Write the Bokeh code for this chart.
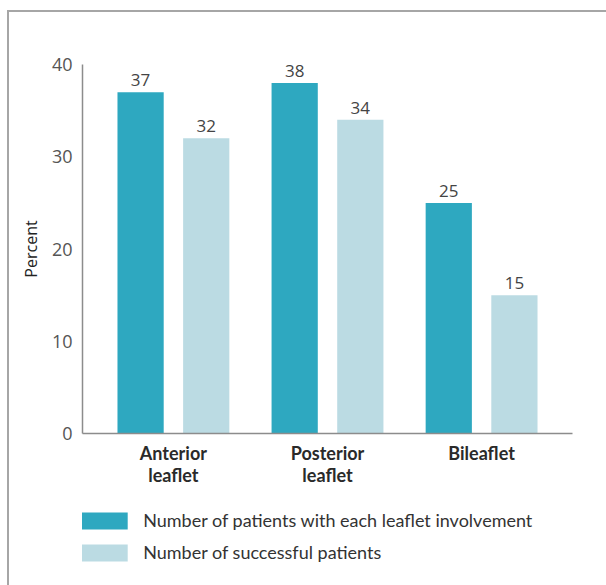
from bokeh.plotting import figure
from bokeh.models import ColumnDataSource, Range1d, FixedTicker, Legend, LegendItem, LabelSet
from bokeh.layouts import column
from bokeh.transform import dodge
from bokeh.core.properties import value
from bokeh.embed import file_html
from bokeh.resources import INLINE

categories = ["Anterior\nleaflet", "Posterior\nleaflet", "Bileaflet"]
involvement = [37, 38, 25]
successful = [32, 34, 15]
series_names = ["Number of patients with each leaflet involvement",
                "Number of successful patients"]
y_ticks = [0, 10, 20, 30, 40]

DARK = "#2EA8C0"
LIGHT = "#BBDBE3"
AXIS = "#8C8C8C"

group_pos = [i + 0.59 for i in range(len(categories))]
src = ColumnDataSource(dict(
    x=group_pos,
    inv=involvement,
    suc=successful,
    inv_txt=[str(v) for v in involvement],
    suc_txt=[str(v) for v in successful],
))

p = figure(width=597, height=478, output_backend="svg", toolbar_location=None,
           x_range=Range1d(0, 3.18), y_range=Range1d(0, 40),
           min_border_left=73, min_border_right=34, min_border_top=52,
           min_border_bottom=57)
p.outline_line_color = None
p.xgrid.visible = False
p.ygrid.visible = False
p.background_fill_color = "white"
p.border_fill_color = "white"

r1 = p.vbar(x=dodge("x", -0.213, range=p.x_range), top="inv", width=0.3,
            source=src, fill_color=DARK, line_color=None)
r2 = p.vbar(x=dodge("x", 0.213, range=p.x_range), top="suc", width=0.3,
            source=src, fill_color=LIGHT, line_color=None)

for col, off in (("inv", -0.213), ("suc", 0.213)):
    p.add_layout(LabelSet(x=dodge("x", off, range=p.x_range), y=col, text=col + "_txt",
                          source=src, text_align="center", text_baseline="alphabetic",
                          y_offset=6, text_font=value("Open Sans"),
                          text_font_size=value("17px"), text_color="#444444"))

# axes
p.yaxis.ticker = FixedTicker(ticks=y_ticks)
p.yaxis.axis_label = "Percent"
p.yaxis.axis_label_text_font = "Open Sans"
p.yaxis.axis_label_text_font_size = "16px"
p.yaxis.axis_label_text_font_style = "normal"
p.yaxis.axis_label_text_color = "#222222"
p.yaxis.axis_label_standoff = 7
p.yaxis.major_label_text_font = "Open Sans"
p.yaxis.major_label_text_font_size = "18px"
p.yaxis.major_label_text_color = "#555555"
p.yaxis.major_label_standoff = 4
p.yaxis.major_tick_line_color = None
p.yaxis.minor_tick_line_color = None
p.yaxis.axis_line_color = AXIS
p.yaxis.axis_line_width = 1.5

p.xaxis.ticker = FixedTicker(ticks=group_pos)
p.xaxis.major_label_overrides = {g: c for g, c in zip(group_pos, categories)}
p.xaxis.major_label_text_font = "Lato"
p.xaxis.major_label_text_font_size = "18px"
p.xaxis.major_label_text_font_style = "bold"
p.xaxis.major_label_text_color = "#2A2A2A"
p.xaxis.major_label_text_line_height = 1.0
p.xaxis.major_label_standoff = 2
p.xaxis.major_tick_line_color = None
p.xaxis.minor_tick_line_color = None
p.xaxis.axis_line_color = AXIS
p.xaxis.axis_line_width = 1.5

# legend panel (separate figure below the chart; its frame is aligned with the chart's)
q = figure(width=597, height=95, output_backend="svg", toolbar_location=None,
           x_range=Range1d(0, 490), y_range=Range1d(0, 95),
           min_border_left=0, min_border_right=0, min_border_top=0, min_border_bottom=0)
q.axis.visible = False
q.grid.visible = False
q.outline_line_color = None
q.background_fill_color = "white"
q.border_fill_color = "white"
lr1 = q.vbar(x=[0], top=[0], bottom=[0], width=0, fill_color=DARK, line_color=None)
lr2 = q.vbar(x=[0], top=[0], bottom=[0], width=0, fill_color=LIGHT, line_color=None)
legend = Legend(items=[LegendItem(label=series_names[0], renderers=[lr1]),
                       LegendItem(label=series_names[1], renderers=[lr2])],
                location=(-6.8, 22), orientation="vertical",
                glyph_width=58, glyph_height=21, label_standoff=10, spacing=10,
                padding=0, margin=0, border_line_color=None,
                background_fill_alpha=0,
                label_text_font="Lato", label_text_font_size="18px",
                label_text_color="#333333")
q.add_layout(legend, "center")

layout = column(p, q, spacing=0,
                styles={"margin-left": "7px", "margin-top": "10px",
                        "border-left": "2px solid #A6A6A6",
                        "border-top": "2px solid #A6A6A6"})

open("out.html", "w").write(file_html(layout, INLINE))
